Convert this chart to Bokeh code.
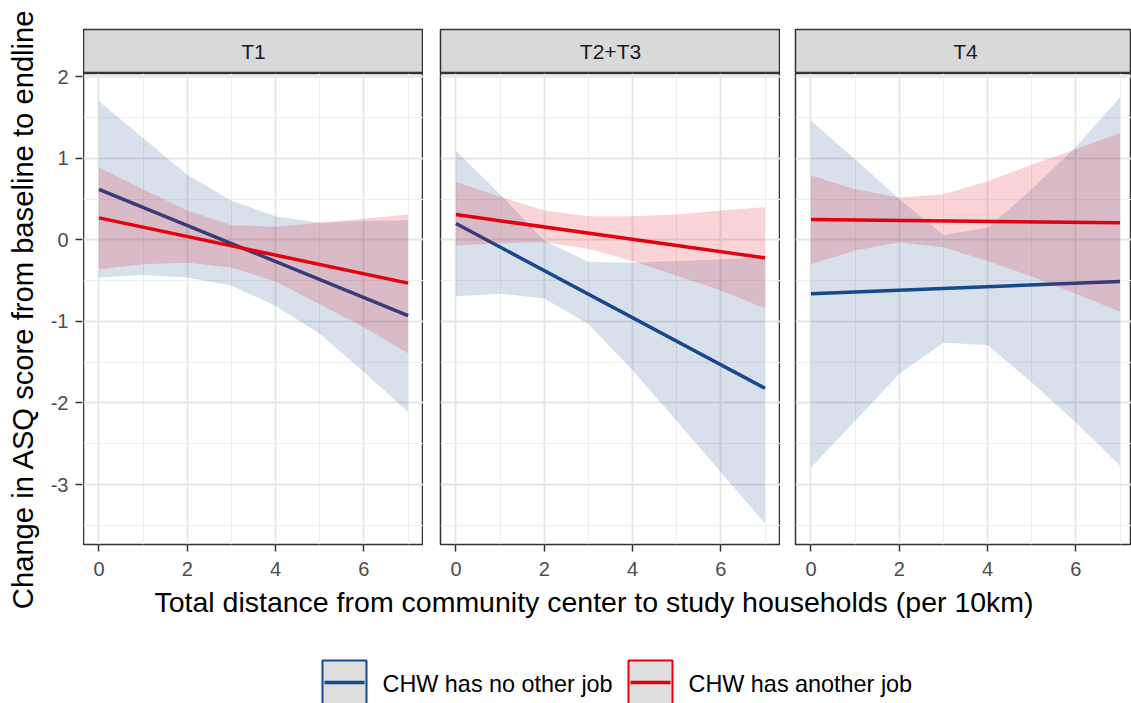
import math
from bokeh.plotting import figure
from bokeh.layouts import row, column
from bokeh.models import Range1d, FixedTicker, Grid, LinearAxis
from bokeh.embed import file_html
from bokeh.resources import INLINE
from bokeh.core.properties import value

# ---------------- data ----------------
panels = ["T1", "T2+T3", "T4"]
series = ["CHW has no other job", "CHW has another job"]
x_title = "Total distance from community center to study households (per 10km)"
y_title = "Change in ASQ score from baseline to endline"
x_ticks = [0, 2, 4, 6]
x_minor = [1, 3, 5, 7]
y_ticks = [-3, -2, -1, 0, 1, 2]
y_minor = [-3.5, -2.5, -1.5, -0.5, 0.5, 1.5]

band_x = [0, 1, 2, 3, 4, 5, 6, 7]
fit_x = [0, 7]

# T1
t1_noother_fit = [0.62, -0.93]
t1_noother_lo = [-0.46, -0.43, -0.46, -0.56, -0.81, -1.15, -1.62, -2.11]
t1_noother_hi = [1.70, 1.25, 0.80, 0.48, 0.29, 0.21, 0.23, 0.24]
t1_another_fit = [0.27, -0.53]
t1_another_lo = [-0.36, -0.30, -0.28, -0.34, -0.51, -0.79, -1.07, -1.39]
t1_another_hi = [0.89, 0.62, 0.36, 0.18, 0.16, 0.21, 0.26, 0.31]

# T2+T3
t23_noother_fit = [0.20, -1.82]
t23_noother_lo = [-0.69, -0.66, -0.72, -1.03, -1.60, -2.22, -2.85, -3.48]
t23_noother_hi = [1.09, 0.56, -0.01, -0.27, -0.28, -0.26, -0.24, -0.21]
t23_another_fit = [0.31, -0.22]
t23_another_lo = [-0.07, -0.04, -0.03, -0.11, -0.26, -0.44, -0.62, -0.84]
t23_another_hi = [0.71, 0.53, 0.36, 0.29, 0.29, 0.31, 0.36, 0.40]

# T4
t4_noother_fit = [-0.66, -0.51]
t4_noother_lo = [-2.79, -2.22, -1.64, -1.26, -1.29, -1.75, -2.24, -2.77]
t4_noother_hi = [1.46, 0.99, 0.50, 0.06, 0.15, 0.62, 1.14, 1.75]
t4_another_fit = [0.25, 0.21]
t4_another_lo = [-0.30, -0.13, -0.03, -0.09, -0.26, -0.45, -0.66, -0.88]
t4_another_hi = [0.79, 0.62, 0.52, 0.56, 0.72, 0.92, 1.11, 1.31]

panel_data = {
    "T1": [(t1_noother_lo, t1_noother_hi, t1_noother_fit),
           (t1_another_lo, t1_another_hi, t1_another_fit)],
    "T2+T3": [(t23_noother_lo, t23_noother_hi, t23_noother_fit),
              (t23_another_lo, t23_another_hi, t23_another_fit)],
    "T4": [(t4_noother_lo, t4_noother_hi, t4_noother_fit),
           (t4_another_lo, t4_another_hi, t4_another_fit)],
}

# ---------------- style / layout ----------------
FONT = "Liberation Sans"
COLORS = ["#15498c", "#e3000f"]
BORDER = "#333333"
GRID_MAJ = "#e6e6e6"
GRID_MIN = "#efefef"
STRIP_FILL = "#d9d9d9"

TOTAL_W, TOTAL_H = 1131, 703
LEFT_W = 83          # area holding y title + y ticks
TOP = 29             # strip top
STRIP_H = 44
FRAME_TOP = TOP + STRIP_H
FRAME_H = 471
BOT = 42
PANEL_W = 340
GAPS = [0, 17, 15]
WIDTHS = [340, 340, 336]
XSCALE = PANEL_W / 7.7
X0 = -0.35
X_ENDS = [X0 + w / XSCALE for w in WIDTHS]
Y0, Y1 = -3.735, 2.04


def base_fig(fw, fh, left, top, bottom, xr, yr):
    p = figure(frame_width=fw, frame_height=fh, x_range=xr, y_range=yr,
               min_border_left=left, min_border_right=0,
               min_border_top=top, min_border_bottom=bottom,
               toolbar_location=None, output_backend="svg",
               x_axis_location=None, y_axis_location=None)
    p.xgrid.visible = False
    p.ygrid.visible = False
    p.background_fill_color = "white"
    p.border_fill_color = "white"
    return p


def style_axis(a):
    a.axis_line_color = None
    a.major_tick_line_color = BORDER
    a.major_tick_line_width = 1.5
    a.major_tick_out = 7
    a.major_tick_in = 0
    a.minor_tick_line_color = None
    a.major_label_text_font = FONT
    a.major_label_text_font_size = "20px"
    a.major_label_text_color = "#4d4d4d"


# ---- left: y axis (ticks, labels, title) ----
left_fig = base_fig(1, FRAME_H, LEFT_W - 1, FRAME_TOP,
                    TOTAL_H - FRAME_TOP - FRAME_H,
                    Range1d(0, 1), Range1d(Y0, Y1))
left_fig.outline_line_color = None
yt_left = FixedTicker(ticks=y_ticks, minor_ticks=y_minor)
ya = LinearAxis(ticker=yt_left, axis_label=y_title)
style_axis(ya)
ya.major_label_standoff = 7
ya.major_label_overrides = {t: str(t) for t in y_ticks}
ya.axis_label_text_font = FONT
ya.axis_label_text_font_size = "29.2px"
ya.axis_label_text_font_style = "normal"
ya.axis_label_text_color = "black"
ya.axis_label_standoff = 9
left_fig.add_layout(ya, "left")

strips = []
figs = []
for i, name in enumerate(panels):
    left = GAPS[i]
    fw = WIDTHS[i]
    xr = Range1d(X0, X_ENDS[i])

    # strip
    s = base_fig(fw, STRIP_H, left, TOP, 0, xr, Range1d(0, 1))
    s.background_fill_color = STRIP_FILL
    s.outline_line_color = BORDER
    s.outline_line_width = 1.5
    s.text(x=[(X0 + X_ENDS[0]) / 2], y=[0.5], text=[name], text_align="center",
           text_baseline="middle", text_font=value(FONT),
           text_font_size="21px", text_color="#1a1a1a")
    strips.append(s)

    # panel
    p = base_fig(fw, FRAME_H, left, 0, BOT, xr, Range1d(Y0, Y1))
    p.outline_line_color = BORDER
    p.outline_line_width = 1.5

    xt = FixedTicker(ticks=x_ticks, minor_ticks=x_minor)
    yt = FixedTicker(ticks=y_ticks, minor_ticks=y_minor)
    for dim, tk in ((0, xt), (1, yt)):
        g = Grid(dimension=dim, ticker=tk, grid_line_color=GRID_MAJ,
                 grid_line_width=1.8, minor_grid_line_color=GRID_MIN,
                 minor_grid_line_width=1.1, level="underlay")
        p.add_layout(g)

    xa = LinearAxis(ticker=xt)
    style_axis(xa)
    xa.major_label_standoff = 10
    p.add_layout(xa, "below")

    for k, (lo, hi, fit) in enumerate(panel_data[name]):
        p.varea(x=band_x, y1=lo, y2=hi, fill_color=COLORS[k], fill_alpha=0.17)
        p.line(x=fit_x, y=fit, line_color=COLORS[k], line_width=3.5)
    figs.append(p)

# ---- bottom: x title + legend ----
BW = TOTAL_W - LEFT_W
BH = TOTAL_H - (FRAME_TOP + FRAME_H + BOT)
bot = figure(width=BW, height=BH, x_range=Range1d(0, BW), y_range=Range1d(0, BH),
             min_border=0, toolbar_location=None, output_backend="svg",
             x_axis_location=None, y_axis_location=None)
bot.outline_line_color = None
bot.xgrid.visible = False
bot.ygrid.visible = False


def by(page_y):
    return TOTAL_H - page_y


def bx(page_x):
    return page_x - LEFT_W


bot.text(x=[bx(593.5)], y=[by(601)], text=[x_title], text_align="center",
         text_baseline="middle", text_font=value(FONT), text_font_size="28.5px",
         text_color="black")

key_left = [322, 628]
text_left = [382, 688]
for k, lab in enumerate(series):
    l = bx(key_left[k])
    bot.quad(left=[l], right=[l + 44], top=[by(660)], bottom=[by(704)],
             fill_color="#dedede", line_color=COLORS[k], line_width=2)
    bot.line(x=[l + 2, l + 42], y=[by(682), by(682)], line_color=COLORS[k],
             line_width=3.5)
    bot.text(x=[bx(text_left[k])], y=[by(683)], text=[lab], text_align="left",
             text_baseline="middle", text_font=value(FONT),
             text_font_size="23.4px", text_color="black")

layout = row(left_fig, column(row(*strips), row(*figs), bot))
open("out.html", "w").write(file_html(layout, INLINE))
